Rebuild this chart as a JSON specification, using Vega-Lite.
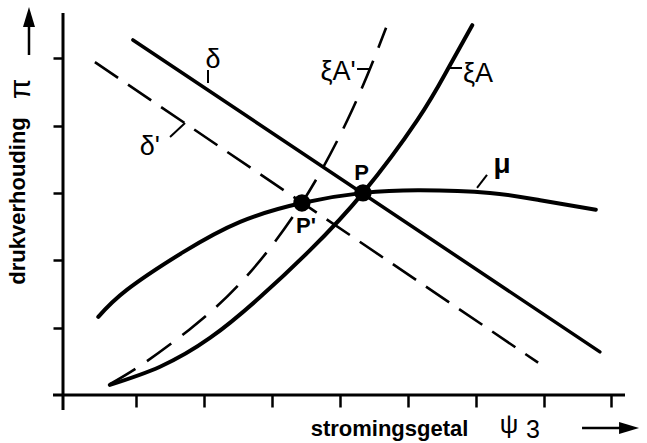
{
  "$schema": "https://vega.github.io/schema/vega-lite/v6.json",
  "width": 562,
  "height": 382,
  "autosize": {"type": "none"},
  "padding": {"left": 63, "top": 13, "right": 22, "bottom": 48},
  "background": "white",
  "config": {"view": {"stroke": null}, "font": "Liberation Sans"},
  "datasets": {
    "delta": [{"x": 0.95, "y": 5.27}, {"x": 7.83, "y": 0.64}],
    "deltaPrime": [{"x": 0.39, "y": 4.94}, {"x": 6.92, "y": 0.48}],
    "xiA": [
      {"x": 0.61, "y": 0.15}, {"x": 1.35, "y": 0.42}, {"x": 2.09, "y": 0.85},
      {"x": 2.82, "y": 1.45}, {"x": 3.56, "y": 2.15}, {"x": 4.34, "y": 3.0},
      {"x": 5.14, "y": 4.08}, {"x": 5.58, "y": 4.82}, {"x": 5.95, "y": 5.49}
    ],
    "xiAPrime": [
      {"x": 0.61, "y": 0.16}, {"x": 1.08, "y": 0.45}, {"x": 1.78, "y": 0.97},
      {"x": 2.56, "y": 1.69}, {"x": 3.44, "y": 2.85}, {"x": 4.18, "y": 4.23},
      {"x": 4.68, "y": 5.45}
    ],
    "mu": [
      {"x": 0.44, "y": 1.16}, {"x": 0.86, "y": 1.56}, {"x": 1.69, "y": 2.12},
      {"x": 2.53, "y": 2.57}, {"x": 3.44, "y": 2.85}, {"x": 4.34, "y": 3.0},
      {"x": 5.18, "y": 3.04}, {"x": 6.21, "y": 3.0}, {"x": 6.95, "y": 2.89},
      {"x": 7.77, "y": 2.75}
    ],
    "points": [
      {"x": 4.34, "y": 3.0, "name": "P"},
      {"x": 3.44, "y": 2.85, "name": "P'"}
    ],
    "pointLabels": [
      {"x": 4.318, "y": 3.19, "text": "P"},
      {"x": 3.5, "y": 2.405, "text": "P'"}
    ],
    "curveLabels": [
      {"x": 2.13, "y": 4.854, "text": "δ"},
      {"x": 1.2, "y": 3.562, "text": "δ'"},
      {"x": 3.972, "y": 4.676, "text": "ξA'"},
      {"x": 6.035, "y": 4.646, "text": "ξA"}
    ],
    "muLabel": [{"x": 6.388, "y": 3.295, "text": "μ"}],
    "leaders": [
      {"x": 2.056, "y": 4.824, "x2": 2.056, "y2": 4.631},
      {"x": 1.497, "y": 3.83, "x2": 1.718, "y2": 4.037},
      {"x": 4.252, "y": 4.839, "x2": 4.443, "y2": 4.839},
      {"x": 5.622, "y": 4.854, "x2": 5.799, "y2": 4.854},
      {"x": 6.02, "y": 3.073, "x2": 6.167, "y2": 3.266}
    ],
    "axisLines": [
      {"x": -0.227, "y": 0, "x2": 8.2, "y2": 0},
      {"x": -0.08, "y": -0.223, "x2": -0.08, "y2": 5.67}
    ],
    "arrowShafts": [
      {"x": 7.567, "y": -0.49, "x2": 8.156, "y2": -0.49},
      {"x": -0.581, "y": 5.047, "x2": -0.581, "y2": 5.492}
    ],
    "arrowRight": [{"x": 8.26, "y": -0.49}],
    "arrowUp": [{"x": -0.581, "y": 5.611}],
    "yTitle": [{"x": -0.64, "y": 2.88, "text": "drukverhouding"}],
    "piLabel": [{"x": -0.56, "y": 4.544, "text": "π"}],
    "psiLabel": [{"x": 6.492, "y": -0.45, "text": "ψ"}],
    "threeLabel": [{"x": 6.845, "y": -0.638, "text": "3"}]
  },
  "encoding": {
    "x": {
      "field": "x",
      "type": "quantitative",
      "scale": {"domain": [-0.08, 8.2], "nice": false, "zero": false},
      "axis": {
        "values": [1, 2, 3, 4, 5, 6, 7, 8],
        "labels": false,
        "domain": false,
        "grid": false,
        "tickSize": 12,
        "tickWidth": 2.5,
        "tickColor": "black",
        "title": "stromingsgetal",
        "titleFont": "Liberation Sans",
        "titleFontSize": 22,
        "titleFontWeight": "bold",
        "titleColor": "black",
        "titleAlign": "center",
        "titleBaseline": "alphabetic",
        "titleX": 326,
        "titleY": 40
      }
    },
    "y": {
      "field": "y",
      "type": "quantitative",
      "scale": {"domain": [0, 5.67], "nice": false, "zero": false},
      "axis": {
        "values": [1, 2, 3, 4, 5],
        "labels": false,
        "domain": false,
        "grid": false,
        "tickSize": 10,
        "tickWidth": 2.5,
        "tickColor": "black",
        "title": null
      }
    }
  },
  "layer": [
    {
      "data": {"name": "axisLines"},
      "mark": {"type": "rule", "strokeWidth": 3, "color": "black"},
      "encoding": {"x2": {"field": "x2"}, "y2": {"field": "y2"}}
    },
    {
      "data": {"name": "arrowShafts"},
      "mark": {"type": "rule", "strokeWidth": 2.5, "color": "black"},
      "encoding": {"x2": {"field": "x2"}, "y2": {"field": "y2"}}
    },
    {
      "data": {"name": "arrowRight"},
      "mark": {"type": "point", "shape": "M-1,-0.6L1,0L-1,0.6Z", "size": 400, "filled": true, "color": "black", "opacity": 1}
    },
    {
      "data": {"name": "arrowUp"},
      "mark": {"type": "point", "shape": "M-0.6,1L0,-1L0.6,1Z", "size": 400, "filled": true, "color": "black", "opacity": 1}
    },
    {
      "data": {"name": "deltaPrime"},
      "mark": {"type": "line", "strokeWidth": 2.6, "color": "black", "strokeDash": [28, 12]}
    },
    {
      "data": {"name": "xiAPrime"},
      "mark": {"type": "line", "strokeWidth": 2.6, "color": "black", "strokeDash": [30, 14], "interpolate": "natural"}
    },
    {
      "data": {"name": "delta"},
      "mark": {"type": "line", "strokeWidth": 3.5, "color": "black", "strokeCap": "round"}
    },
    {
      "data": {"name": "mu"},
      "mark": {"type": "line", "strokeWidth": 4, "color": "black", "strokeCap": "round", "interpolate": "natural"}
    },
    {
      "data": {"name": "xiA"},
      "mark": {"type": "line", "strokeWidth": 4, "color": "black", "strokeCap": "round", "interpolate": "natural"}
    },
    {
      "data": {"name": "points"},
      "mark": {"type": "point", "shape": "circle", "size": 300, "filled": true, "color": "black", "opacity": 1}
    },
    {
      "data": {"name": "leaders"},
      "mark": {"type": "rule", "strokeWidth": 2, "color": "black"},
      "encoding": {"x2": {"field": "x2"}, "y2": {"field": "y2"}}
    },
    {
      "data": {"name": "pointLabels"},
      "mark": {"type": "text", "fontSize": 22, "fontWeight": "bold", "align": "center", "baseline": "alphabetic", "color": "black"},
      "encoding": {"text": {"field": "text"}}
    },
    {
      "data": {"name": "curveLabels"},
      "mark": {"type": "text", "fontSize": 27, "align": "center", "baseline": "alphabetic", "color": "black"},
      "encoding": {"text": {"field": "text"}}
    },
    {
      "data": {"name": "muLabel"},
      "mark": {"type": "text", "fontSize": 28, "fontWeight": "bold", "align": "center", "baseline": "alphabetic", "color": "black"},
      "encoding": {"text": {"field": "text"}}
    },
    {
      "data": {"name": "yTitle"},
      "mark": {"type": "text", "fontSize": 22, "fontWeight": "bold", "angle": 270, "align": "center", "baseline": "alphabetic", "color": "black"},
      "encoding": {"text": {"field": "text"}}
    },
    {
      "data": {"name": "piLabel"},
      "mark": {"type": "text", "fontSize": 30, "angle": 270, "align": "center", "baseline": "alphabetic", "color": "black"},
      "encoding": {"text": {"field": "text"}}
    },
    {
      "data": {"name": "psiLabel"},
      "mark": {"type": "text", "fontSize": 26, "align": "center", "baseline": "middle", "color": "black"},
      "encoding": {"text": {"field": "text"}}
    },
    {
      "data": {"name": "threeLabel"},
      "mark": {"type": "text", "fontSize": 25, "align": "center", "baseline": "alphabetic", "color": "black"},
      "encoding": {"text": {"field": "text"}}
    }
  ]
}
